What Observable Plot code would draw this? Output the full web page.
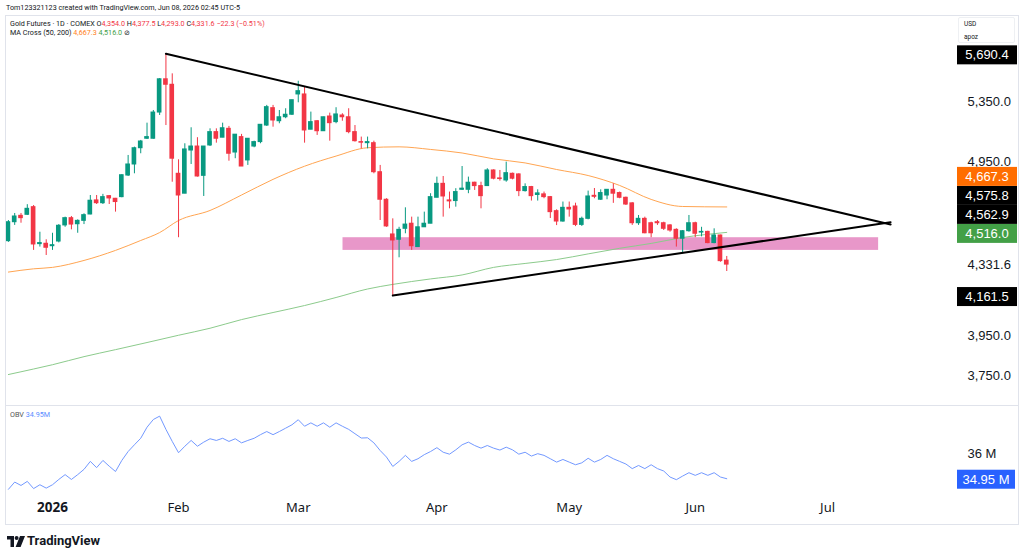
<!DOCTYPE html>
<html><head><meta charset="utf-8">
<script src="https://cdn.jsdelivr.net/npm/d3@7"></script>
<script src="https://cdn.jsdelivr.net/npm/@observablehq/plot@0.6"></script>
<style>
html,body{margin:0;padding:0;background:#fff;}
#wrap{position:relative;width:1024px;height:558px;overflow:hidden;font-family:"Noto Sans",sans-serif;color:#131722;}
.abs{position:absolute;white-space:nowrap;}
.sm{font-family:Roboto,sans-serif;font-size:7.2px;line-height:12px;}
.r{color:#f23645}
</style></head><body><div id="wrap">
<div class="abs sm" style="left:6px;top:2px;">Tom123321123 created with TradingView.com, Jun 08, 2026 02:45 UTC-5</div>
</div>
<script>
// ---------- data ----------
const barIndex = d3.range(-7, 108); // daily sessions, 0 = Jan 2 2026
const openP = [
 4465,4576,4614,4620,4666,4448,4450,4436,4463,4557,
 4600,4564,4584,4622,4707,4690,4733,4717,4727,4861,
 4931,5036,5098,5098,5274,5506,5467,4872,4748,5021,
 5047,4859,5054,5142,5105,5164,5008,5109,4957,5047,
 5076,5186,5304,5215,5242,5259,5399,5399,5158,5215,
 5148,5247,5209,5254,5242,5142,5076,5069,5069,4882,
 4711,4504,4473,4537,4567,4431,4546,4567,4723,4809,
 4707,4703,4772,4772,4816,4795,4795,4893,4843,4830,
 4872,4868,4764,4789,4740,4744,4727,4642,4580,4662,
 4670,4560,4596,4735,4711,4737,4772,4752,4723,4689,
 4570,4596,4570,4576,4570,4557,4531,4479,4523,4570,
 4515,4519,4454,4498,4354];
const highP = [
 4586,4628,4628,4681,4676,4517,4473,4511,4562,4606,
 4610,4590,4626,4737,4737,4744,4737,4719,4866,4989,
 5043,5087,5202,5288,5511,5690.4,5545,4961,5065,5171,
 5105,5047,5164,5164,5202,5180,5125,5127,5098,5082,
 5191,5323,5323,5288,5300,5359,5492,5450,5277,5220,
 5242,5270,5307,5266,5300,5186,5109,5109,5082,4925,
 4717,4596,4546,4662,4606,4606,4636,4748,4851,4855,
 4758,4779,4918,4851,4819,4819,4904,4897,4893,4946,
 4876,4872,4809,4793,4772,4758,4731,4650,4697,4697,
 4690,4606,4764,4780,4772,4772,4809,4758,4727,4693,
 4616,4606,4576,4586,4576,4562,4537,4527,4616,4576,
 4546,4523,4537,4500,4377.5];
const lowP = [
 4458,4557,4570,4616,4412,4431,4383,4412,4455,4546,
 4531,4511,4562,4620,4682,4682,4682,4636,4723,4855,
 4872,5000,5093,5095,5254,5186,4819,4485,4748,4931,
 4851,4731,5047,5069,5105,4952,4968,4918,4925,5039,
 5065,5180,5175,5198,5232,5254,5341,5069,5158,5120,
 5148,5082,5198,5215,5131,5076,5032,5032,4872,4586,
 4546,4161.5,4370,4508,4412,4431,4546,4567,4723,4606,
 4656,4666,4768,4748,4768,4656,4795,4834,4826,4819,
 4834,4730,4758,4703,4703,4717,4598,4556,4576,4606,
 4550,4551,4590,4717,4707,4711,4689,4717,4676,4557,
 4557,4508,4485,4557,4527,4517,4431,4393,4517,4485,
 4490,4450,4450,4345,4293];
const closeP = [
 4576,4610,4600,4656,4446,4454,4427,4442,4555,4600,
 4562,4584,4618,4705,4690,4727,4719,4697,4863,4931,
 5036,5080,5109,5274,5506,5467,4968,4737,5028,5047,
 4855,5047,5142,5098,5168,5000,5125,4918,5098,5076,
 5191,5311,5220,5242,5259,5359,5422,5153,5209,5148,
 5242,5202,5261,5242,5142,5082,5072,5076,4882,4711,
 4551,4469,4531,4562,4436,4546,4567,4727,4809,4731,
 4701,4758,4779,4816,4795,4733,4893,4841,4839,4876,
 4841,4764,4789,4733,4750,4727,4636,4580,4662,4652,
 4560,4596,4731,4729,4752,4772,4748,4723,4682,4570,
 4596,4511,4511,4570,4537,4527,4479,4523,4570,4508,
 4519,4454,4498,4351,4331.6];
const obvM = [
 34.51,34.81,34.67,34.84,34.54,34.70,34.56,34.70,34.92,35.12,
 34.92,35.12,35.34,35.67,35.41,35.71,35.47,35.25,35.71,36.08,
 36.36,36.63,37.09,37.41,37.55,37.00,36.50,36.03,36.30,36.54,
 36.30,36.47,36.61,36.54,36.63,36.50,36.61,36.44,36.54,36.63,
 36.78,36.91,36.78,36.91,37.05,37.19,37.40,37.13,37.27,37.13,
 37.27,37.09,37.27,37.13,37.00,36.82,36.64,36.65,36.44,36.12,
 35.85,35.46,35.67,35.92,35.67,35.78,35.95,36.08,36.24,36.05,
 35.97,36.15,36.36,36.47,36.33,36.22,36.33,36.22,36.14,36.26,
 36.15,35.97,36.05,35.89,35.99,35.92,35.78,35.64,35.75,35.64,
 35.53,35.61,35.80,35.64,35.75,35.92,35.78,35.67,35.56,35.37,
 35.50,35.37,35.53,35.37,35.27,35.02,34.91,35.06,35.20,35.09,
 35.20,35.09,35.20,35.02,34.95];
const ma50Index = [-7,-3,0,5,10,14,17,20,25,30,35,40,45,50,55,60,65,70,75,80,85,90,95,100,107];
const ma50Value = [4290,4308,4316,4355,4412,4469,4515,4586,4646,4740,4837,4920,4985,5039,5045,5028,5005,4967,4941,4899,4861,4799,4713,4670,4667.3];
const ma200Index = [-7,-3,0,5,10,15,20,25,30,35,40,45,50,54,60,65,70,75,80,85,90,95,100,107];
const ma200Value = [3757,3784,3805,3845,3880,3916,3953,3989,4034,4071,4108,4151,4197,4222,4252,4274,4316,4338,4360,4392,4424,4452,4486,4516];
const upperTrendIndex = [18,133], upperTrendPrice = [5690.4,4562.9];
const lowerTrendIndex = [54,133], lowerTrendPrice = [4161.5,4575.8];
const zoneIndex = [46.1,131.1], zonePrice = [4412,4485];
const monthTickIndex = [0,20,39,61,82,102,123];
const monthTickLabel = ["2026","Feb","Mar","Apr","May","Jun","Jul"];
const priceTicks = [3750,3950,4331.6,4950,5350];
const priceTagValue = [5690.4,4667.3,4575.8,4562.9,4516.0,4161.5];
const priceTagColor = ["#000000","#ff6d00","#000000","#000000","#43a047","#000000"];
const obvTicks = [36];
const obvLast = 34.95;

// ---------- build ----------
const UP = "#089981", DOWN = "#f23645";
const candles = barIndex.map((i,k)=>({i, open:openP[k], high:highP[k], low:lowP[k], close:closeP[k], c: closeP[k]>=openP[k]?UP:DOWN}));
const ma50 = ma50Index.map((i,k)=>({i, v:ma50Value[k]}));
const ma200 = ma200Index.map((i,k)=>({i, v:ma200Value[k]}));
const upper = upperTrendIndex.map((i,k)=>({i, p:upperTrendPrice[k]}));
const lower = lowerTrendIndex.map((i,k)=>({i, p:lowerTrendPrice[k]}));
const zone = [{x1:zoneIndex[0], x2:zoneIndex[1], y1:zonePrice[0], y2:zonePrice[1]}];
const obv = barIndex.map((i,k)=>({i, v:obvM[k]}));
const months = monthTickIndex.map((i,k)=>({i, label:monthTickLabel[k]}));
const XDOM = [-7.46, 143.3];
const FONT = "Noto Sans, sans-serif";
const AXFONT = "Liberation Sans, Arial, sans-serif";
const wrap = document.getElementById("wrap");

const main = Plot.plot({
  width:1024, height:389, marginLeft:5, marginRight:69, marginTop:0, marginBottom:0,
  x:{type:"linear", domain:XDOM, axis:null},
  y:{type:"log", domain:[3604.7,5964.5], axis:null},
  color:{type:"identity"},
  style:{fontFamily:AXFONT, fontSize:"13px", color:"#131722", background:"transparent", overflow:"visible"},
  marks:[
    Plot.rect(zone, {x1:"x1", x2:"x2", y1:"y1", y2:"y2", fill:"#e897c9"}),
    Plot.line(ma200, {x:"i", y:"v", stroke:"#8ccb8c", strokeWidth:1, curve:"monotone-x"}),
    Plot.line(ma50, {x:"i", y:"v", stroke:"#ffa552", strokeWidth:1, curve:"monotone-x"}),
    Plot.ruleX(candles, {x:"i", y1:"low", y2:"high", stroke:"c", strokeWidth:1}),
    Plot.rect(candles, {x1:d=>d.i-0.37, x2:d=>d.i+0.37, y1:"open", y2:"close", fill:"c", insetTop:-0.5, insetBottom:-0.5}),
    Plot.line(upper, {x:"i", y:"p", stroke:"#000", strokeWidth:2}),
    Plot.line(lower, {x:"i", y:"p", stroke:"#000", strokeWidth:2}),
    Plot.axisY({anchor:"right", label:null, ticks:priceTicks, tickFormat:d3.format(",.1f"), tickSize:0, tickPadding:12, fill:"#131722"})
  ]
});
main.style.position="absolute"; main.style.left="0px"; main.style.top="17px";
wrap.appendChild(main);

// price tags through the y scale, stacked upward so they do not overlap
{
  const ys = main.scale("y");
  const items = priceTagValue.map((v,k)=>({v, col:priceTagColor[k], py:ys.apply(v)+1.5})).sort((a,b)=>b.py-a.py);
  let prev = Infinity;
  for (const it of items){ it.cy = Math.min(it.py, prev-19); prev = it.cy; }
  const g = d3.select(main).append("g");
  const x0 = 1024-69+2;
  for (const it of items){
    g.append("rect").attr("x",x0).attr("y",it.cy-9.5).attr("width",60).attr("height",19).attr("fill",it.col);
  }
  for (const it of items){
    g.append("text").attr("x",x0+30).attr("y",it.cy).attr("dy","0.35em").attr("text-anchor","middle")
      .attr("fill","#fff").attr("font-size","13px").attr("font-family",AXFONT).text(d3.format(",.1f")(it.v));
  }
}

const obvPlot = Plot.plot({
  width:1024, height:118, marginLeft:5, marginRight:69, marginTop:0, marginBottom:27,
  x:{type:"linear", domain:XDOM, axis:null},
  y:{domain:[34.17,37.95], axis:null},
  style:{fontFamily:AXFONT, fontSize:"13px", color:"#131722", background:"transparent", overflow:"visible"},
  marks:[
    Plot.line(obv, {x:"i", y:"v", stroke:"#7399ff", strokeWidth:1}),
    Plot.axisY({anchor:"right", label:null, ticks:obvTicks, tickFormat:d=>d+" M", tickSize:0, tickPadding:12, fill:"#131722"}),
    Plot.text(months.filter(d=>d.label!=="2026"), {x:"i", text:"label", frameAnchor:"bottom", dy:14, fontSize:13, fontFamily:FONT, fill:"#131722"}),
    Plot.text(months.filter(d=>d.label==="2026"), {x:"i", text:"label", frameAnchor:"bottom", dy:14, fontSize:13.5, fontFamily:FONT, fontWeight:"bold", fill:"#131722"})
  ]
});
obvPlot.style.position="absolute"; obvPlot.style.left="0px"; obvPlot.style.top="406px";
wrap.appendChild(obvPlot);
{
  const ys = obvPlot.scale("y");
  const cy = ys.apply(obvLast)+1;
  const g = d3.select(obvPlot).append("g");
  const x0 = 1024-69+2;
  g.append("rect").attr("x",x0).attr("y",cy-9.5).attr("width",58).attr("height",19).attr("fill","#2962ff");
  g.append("text").attr("x",x0+29).attr("y",cy).attr("dy","0.35em").attr("text-anchor","middle")
    .attr("fill","#fff").attr("font-size","13px").attr("font-family",AXFONT).text(obvLast.toFixed(2)+" M");
}

// frame, legends, footer
const add = (html)=>{ wrap.insertAdjacentHTML("beforeend", html); };
add(`<div class="abs" style="left:5px;top:15px;width:1012px;height:508px;border:1px solid #e0e3eb;"></div>`);
add(`<div class="abs" style="left:5px;top:405px;width:1013px;height:0;border-top:1px solid #e0e3eb;"></div>`);
add(`<div class="abs sm" style="left:10px;top:18px;">Gold Futures · 1D · COMEX O<span class="r">4,354.0</span> H<span class="r">4,377.5</span> L<span class="r">4,293.0</span> C<span class="r">4,331.6</span> <span class="r">−22.3 (−0.51%)</span></div>`);
add(`<div class="abs sm" style="left:10px;top:27px;">MA Cross (50, 200) <span style="color:#ff7f1e">4,667.3</span> <span style="color:#43a047">4,516.0</span> ⊘</div>`);
add(`<div class="abs sm" style="left:10px;top:409px;color:#555;">OBV <span style="color:#5b8cff">34.95M</span></div>`);
add(`<div class="abs" style="left:958px;top:17px;width:57px;height:26px;background:#fff;border:1px solid #eef0f3;border-radius:2px;font-family:Roboto,sans-serif;font-size:6.5px;line-height:13px;padding-left:5px;box-sizing:border-box;">USD<br>apoz</div>`);
add(`<svg class="abs" style="left:7px;top:536px" width="18" height="11" viewBox="0 0 18 11"><path d="M0 0H7V11H3.5V3.5H0Z" fill="#131722"/><circle cx="9.6" cy="2" r="2" fill="#131722"/><path d="M13 0H18L13.6 11H8.6Z" fill="#131722"/></svg>`);
add(`<div class="abs" style="left:27px;top:532px;font-family:Roboto,sans-serif;font-size:13px;font-weight:700;line-height:18px;">TradingView</div>`);
</script>
</body></html>
